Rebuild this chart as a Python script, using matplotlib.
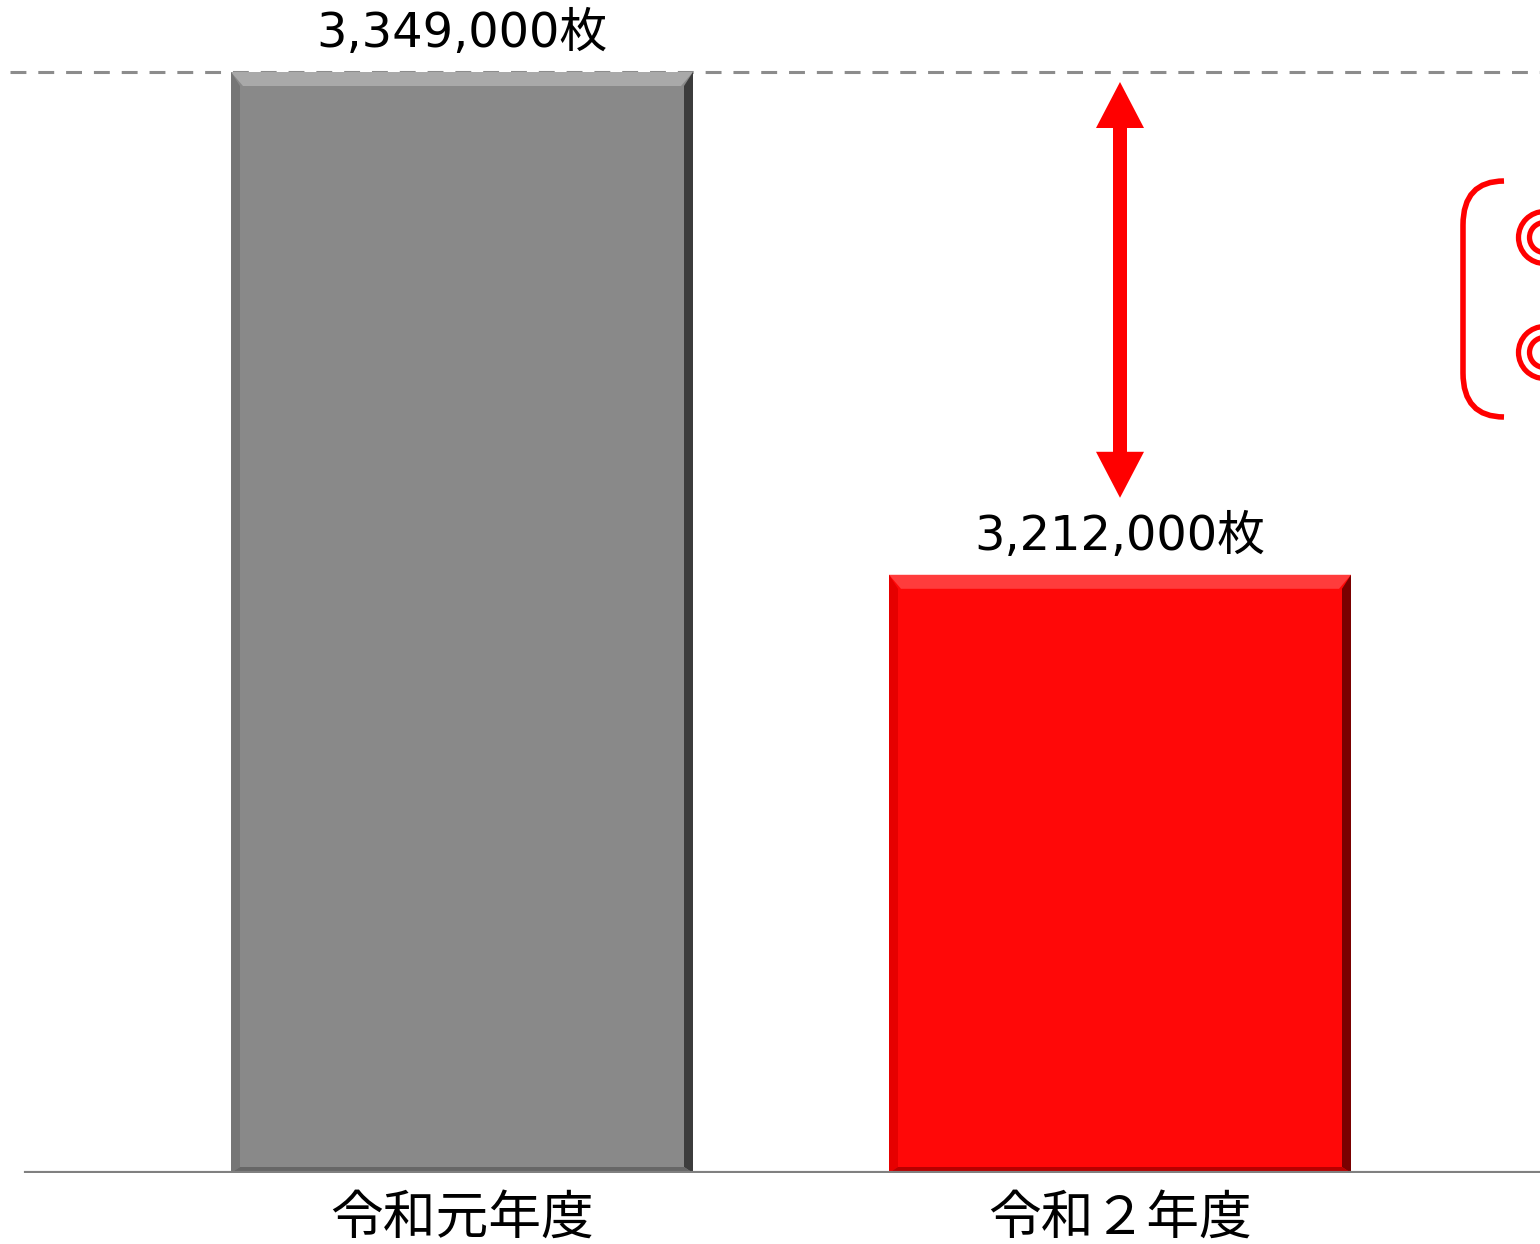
import numpy as np
import matplotlib.pyplot as plt
from matplotlib.path import Path
from matplotlib.patches import PathPatch, Polygon, Circle

plt.rcParams['font.family'] = ['Noto Sans CJK JP', 'DejaVu Sans']

categories = ["令和元年度", "令和２年度"]
values = [3349000, 3212000]
value_labels = ["3,349,000枚", "3,212,000枚"]
face_colors = ["#898989", "#ff0808"]
bevel_light = ["#a9a9a9", "#ff3c3c"]
bevel_left = ["#767676", "#e60000"]
bevel_right = ["#3c3c3c", "#7a0000"]
bevel_bottom = ["#666666", "#b80000"]

y_min = 3049000
W, H = 1540, 1244
fig = plt.figure(figsize=(W / 100, H / 100), dpi=100)
base_px = 1173
ax = fig.add_axes([0, (H - base_px) / H, 1, base_px / H])

x = np.arange(len(categories))
bar_w = 462 / 658
ax.set_xlim(-462 / 658, (W - 462) / 658)
unit_per_px = (values[0] - y_min) / 1101
ax.set_ylim(y_min, y_min + base_px * unit_per_px)
ax.axis("off")

bars = ax.bar(x, values, width=bar_w, bottom=0, color=face_colors, zorder=2)

# bevel effect on each bar
bx = 12 / 658
sx = 9 / 658
by = 14 * unit_per_px
sy = 6 * unit_per_px
for i, b in enumerate(bars):
    x0, x1 = b.get_x(), b.get_x() + b.get_width()
    y0, y1 = y_min, b.get_height()
    ax.add_patch(Polygon([[x0, y1], [x1, y1], [x1 - bx, y1 - by], [x0 + bx, y1 - by]],
                         closed=True, color=bevel_light[i], lw=0, zorder=3))
    ax.add_patch(Polygon([[x0, y1], [x0 + sx, y1 - by], [x0 + sx, y0 + sy], [x0, y0]],
                         closed=True, color=bevel_left[i], lw=0, zorder=3))
    ax.add_patch(Polygon([[x1, y1], [x1 - sx, y1 - by], [x1 - sx, y0 + sy], [x1, y0]],
                         closed=True, color=bevel_right[i], lw=0, zorder=3))
    ax.add_patch(Polygon([[x0, y0], [x1, y0], [x1 - sx, y0 + sy], [x0 + sx, y0 + sy]],
                         closed=True, color=bevel_bottom[i], lw=0, zorder=3))
    ax.text(x[i], values[i] + 25 * unit_per_px, value_labels[i], ha="center", va="baseline",
            fontsize=34.5, color="black", zorder=5, family=["DejaVu Sans", "Noto Sans CJK JP"])
    ax.text(x[i], y_min - 18 * unit_per_px, categories[i], ha="center", va="top",
            fontsize=38, color="black", zorder=5, clip_on=False)

# baseline and reference dashed line
ax.axhline(y_min, xmin=26 / W, xmax=1, color="#808080", lw=3, zorder=4)
ax.axhline(values[0], xmin=10 / W, xmax=1, color="#8c8c8c", lw=2.2,
           linestyle=(0, (5.2, 3.9)), zorder=1)

# difference arrow (double-headed, drawn as one polygon)
ax_x = x[1]
top = values[0] - 10 * unit_per_px
bot = values[1] + 77 * unit_per_px
hw = 24 / 658
sw = 7 / 658
hl = 46 * unit_per_px
ax.add_patch(Polygon([[ax_x, top], [ax_x + hw, top - hl], [ax_x + sw, top - hl],
                      [ax_x + sw, bot + hl], [ax_x + hw, bot + hl], [ax_x, bot],
                      [ax_x - hw, bot + hl], [ax_x - sw, bot + hl], [ax_x - sw, top - hl],
                      [ax_x - hw, top - hl]], closed=True, color="#ff0000", lw=0, zorder=6))

# bracket on right edge
def px(xp, yp):
    return (xp / W, 1 - yp / H)

verts = [px(1504, 181), px(1463, 181), px(1463, 225),
         px(1463, 373), px(1463, 417), px(1504, 417)]
codes = [Path.MOVETO, Path.CURVE3, Path.CURVE3,
         Path.LINETO, Path.CURVE3, Path.CURVE3]
fig.patches.append(PathPatch(Path(verts, codes), transform=fig.transFigure,
                             fill=False, edgecolor="#ff0000", lw=4))

# double-circle marks, cut by the right edge
for yp in (237.5, 352.5):
    for r in (26, 15):
        fig.patches.append(Circle((1544.5 / 100, (H - yp) / 100), r / 100,
                                  transform=fig.dpi_scale_trans, fill=False,
                                  edgecolor="#ff0000", lw=3.8))

fig.savefig("out.png", dpi=100)
